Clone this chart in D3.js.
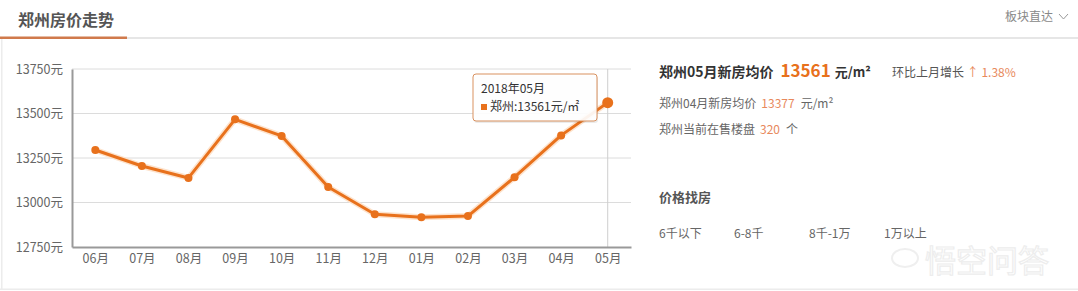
<!DOCTYPE html>
<html>
<head>
<meta charset="utf-8">
<script src="https://cdn.jsdelivr.net/npm/d3@7"></script>
<style>
	body { margin: 0; background: #fff; }
	svg text { font-family: "Microsoft YaHei", "Noto Sans CJK SC", sans-serif; }
</style>
</head>
<body>
<div id="chart"></div>
<script>
// monthly average new-house price, Zhengzhou (元/㎡)
var months = ['06月', '07月', '08月', '09月', '10月', '11月', '12月', '01月', '02月', '03月', '04月', '05月'];
var prices = [13295, 13205, 13138, 13467, 13374, 13087, 12934, 12917, 12924, 13142, 13377, 13561];
var yTicks = [12750, 13000, 13250, 13500, 13750];
var priceRanges = ['6千以下', '6-8千', '8千-1万', '1万以上'];

const W = 1078, H = 291;
const MARGIN = { TOP: 69, LEFT: 72, BOTTOM: 44, RIGHT: 447 };
const ORANGE = '#e8711c';

var svg = d3.select('#chart').append('svg')
	.attr('width', W)
	.attr('height', H);

// frame
svg.append('rect').attr('x', 0).attr('y', 37).attr('width', W).attr('height', 2).attr('fill', '#e6e6e6');
svg.append('rect').attr('x', 0).attr('y', 36.5).attr('width', 127).attr('height', 2.5).attr('fill', '#d07a4c');
svg.append('rect').attr('x', 1).attr('y', 39).attr('width', 1.5).attr('height', 250).attr('fill', '#ececec');
svg.append('rect').attr('x', 0).attr('y', 288.5).attr('width', W).attr('height', 1.5).attr('fill', '#ececec');

svg.append('text').attr('x', 18).attr('y', 26)
	.style('font-size', '16px').style('font-weight', 'bold').attr('fill', '#555')
	.text('郑州房价走势');
svg.append('text').attr('x', 1005).attr('y', 21)
	.style('font-size', '12px').attr('fill', '#888')
	.text('板块直达');
svg.append('path').attr('d', 'M1059,14 L1063.5,19 L1068,14')
	.attr('fill', 'none').attr('stroke', '#999').attr('stroke-width', 1);

var g = svg.append('g');
var x = d3.scalePoint().domain(months).range([MARGIN.LEFT, W - MARGIN.RIGHT]).padding(0.5);
var y = d3.scaleLinear().domain([12750, 13750]).range([H - MARGIN.BOTTOM, MARGIN.TOP]);

// grid
g.selectAll('.grid').data(yTicks.slice(1)).enter().append('line')
	.attr('x1', MARGIN.LEFT).attr('x2', W - MARGIN.RIGHT)
	.attr('y1', function (d) { return y(d); }).attr('y2', function (d) { return y(d); })
	.attr('stroke', '#dcdcdc').attr('stroke-width', 1);

// hover crosshair on last month
var last = months.length - 1;
g.append('line')
	.attr('x1', x(months[last])).attr('x2', x(months[last]))
	.attr('y1', MARGIN.TOP).attr('y2', H - MARGIN.BOTTOM)
	.attr('stroke', '#cfcfcf').attr('stroke-width', 1);

var yAxis = d3.axisLeft(y).tickValues(yTicks).tickSize(0).tickPadding(9)
	.tickFormat(function (d) { return d + '元'; });
var xAxis = d3.axisBottom(x).tickSize(0).tickPadding(7);

g.append('g').attr('class', 'y axis')
	.attr('transform', 'translate(' + MARGIN.LEFT + ',0)')
	.call(yAxis);
g.append('g').attr('class', 'x axis')
	.attr('transform', 'translate(0,' + (H - MARGIN.BOTTOM) + ')')
	.call(xAxis);

g.selectAll('.axis path').attr('stroke', '#999').attr('stroke-width', 2);
g.selectAll('.axis text').attr('fill', '#666').style('font-size', '12.5px');

// line + points
var line = d3.line()
	.x(function (d, i) { return x(months[i]); })
	.y(function (d) { return y(d); });

g.append('path').datum(prices)
	.attr('d', line)
	.attr('fill', 'none').attr('stroke', '#fde3cd').attr('stroke-width', 6).attr('stroke-linejoin', 'round');
g.append('path').datum(prices)
	.attr('d', line)
	.attr('fill', 'none').attr('stroke', ORANGE).attr('stroke-width', 3).attr('stroke-linejoin', 'round');

g.selectAll('.dot').data(prices).enter().append('circle')
	.attr('cx', function (d, i) { return x(months[i]); })
	.attr('cy', function (d) { return y(d); })
	.attr('r', function (d, i) { return i === last ? 5.5 : 4; })
	.attr('fill', ORANGE);

// tooltip
var tip = g.append('g').attr('transform', 'translate(473,74)');
tip.append('rect').attr('x', 1).attr('y', 2).attr('width', 124).attr('height', 47).attr('rx', 3)
	.attr('fill', '#000').attr('opacity', 0.08);
tip.append('rect').attr('width', 124).attr('height', 47).attr('rx', 3)
	.attr('fill', '#fff').attr('fill-opacity', 0.92)
	.attr('stroke', '#d9915f').attr('stroke-width', 1);
tip.append('text').attr('x', 8).attr('y', 19)
	.style('font-size', '12px').attr('fill', '#333')
	.text('2018年' + months[last]);
tip.append('rect').attr('x', 8).attr('y', 30).attr('width', 6).attr('height', 6).attr('fill', ORANGE);
tip.append('text').attr('x', 17).attr('y', 37)
	.style('font-size', '12px').attr('fill', '#333')
	.text('郑州:' + prices[last] + '元/㎡');

// right panel
var info = svg.append('g');
var t1 = info.append('text').attr('x', 659).attr('y', 77).style('font-size', '14px');
t1.append('tspan').attr('fill', '#333').style('font-weight', 'bold').text('郑州' + months[last] + '新房均价');
t1.append('tspan').attr('dx', 7).attr('fill', ORANGE).style('font-weight', 'bold').style('font-size', '17px').text(prices[last]);
t1.append('tspan').attr('dx', 4).attr('fill', '#333').style('font-weight', 'bold').style('font-size', '13px').text('元/m²');

var growth = ((prices[last] - prices[last - 1]) / prices[last - 1] * 100).toFixed(2);
var t1b = info.append('text').attr('x', 892).attr('y', 77).style('font-size', '12px');
t1b.append('tspan').attr('fill', '#555').text('环比上月增长 ');
t1b.append('tspan').attr('fill', '#e8895c').text('↑ ' + growth + '%');

var t2 = info.append('text').attr('x', 659).attr('y', 108).style('font-size', '12px');
t2.append('tspan').attr('fill', '#666').text('郑州' + months[last - 1] + '新房均价');
t2.append('tspan').attr('dx', 5).attr('fill', '#e8895c').text(prices[last - 1]);
t2.append('tspan').attr('dx', 6).attr('fill', '#666').text('元/m²');

var t3 = info.append('text').attr('x', 659).attr('y', 134).style('font-size', '12px');
t3.append('tspan').attr('fill', '#666').text('郑州当前在售楼盘');
t3.append('tspan').attr('dx', 5).attr('fill', '#e8895c').text('320');
t3.append('tspan').attr('dx', 6).attr('fill', '#666').text('个');

info.append('text').attr('x', 659).attr('y', 202)
	.style('font-size', '13px').style('font-weight', 'bold').attr('fill', '#555')
	.text('价格找房');

info.selectAll('.range').data(priceRanges).enter().append('text')
	.attr('x', function (d, i) { return 659 + i * 75; })
	.attr('y', 238)
	.style('font-size', '12px').attr('fill', '#666')
	.text(function (d) { return d; });

// faint watermark
svg.append('text').attr('x', 925).attr('y', 272)
	.style('font-size', '31px').attr('fill', '#fff')
	.attr('stroke', '#ededed').attr('stroke-width', 1.2)
	.text('悟空问答');
svg.append('ellipse').attr('cx', 905).attr('cy', 258).attr('rx', 13).attr('ry', 9)
	.attr('fill', 'none').attr('stroke', '#efefef').attr('stroke-width', 2);
</script>
</body>
</html>
